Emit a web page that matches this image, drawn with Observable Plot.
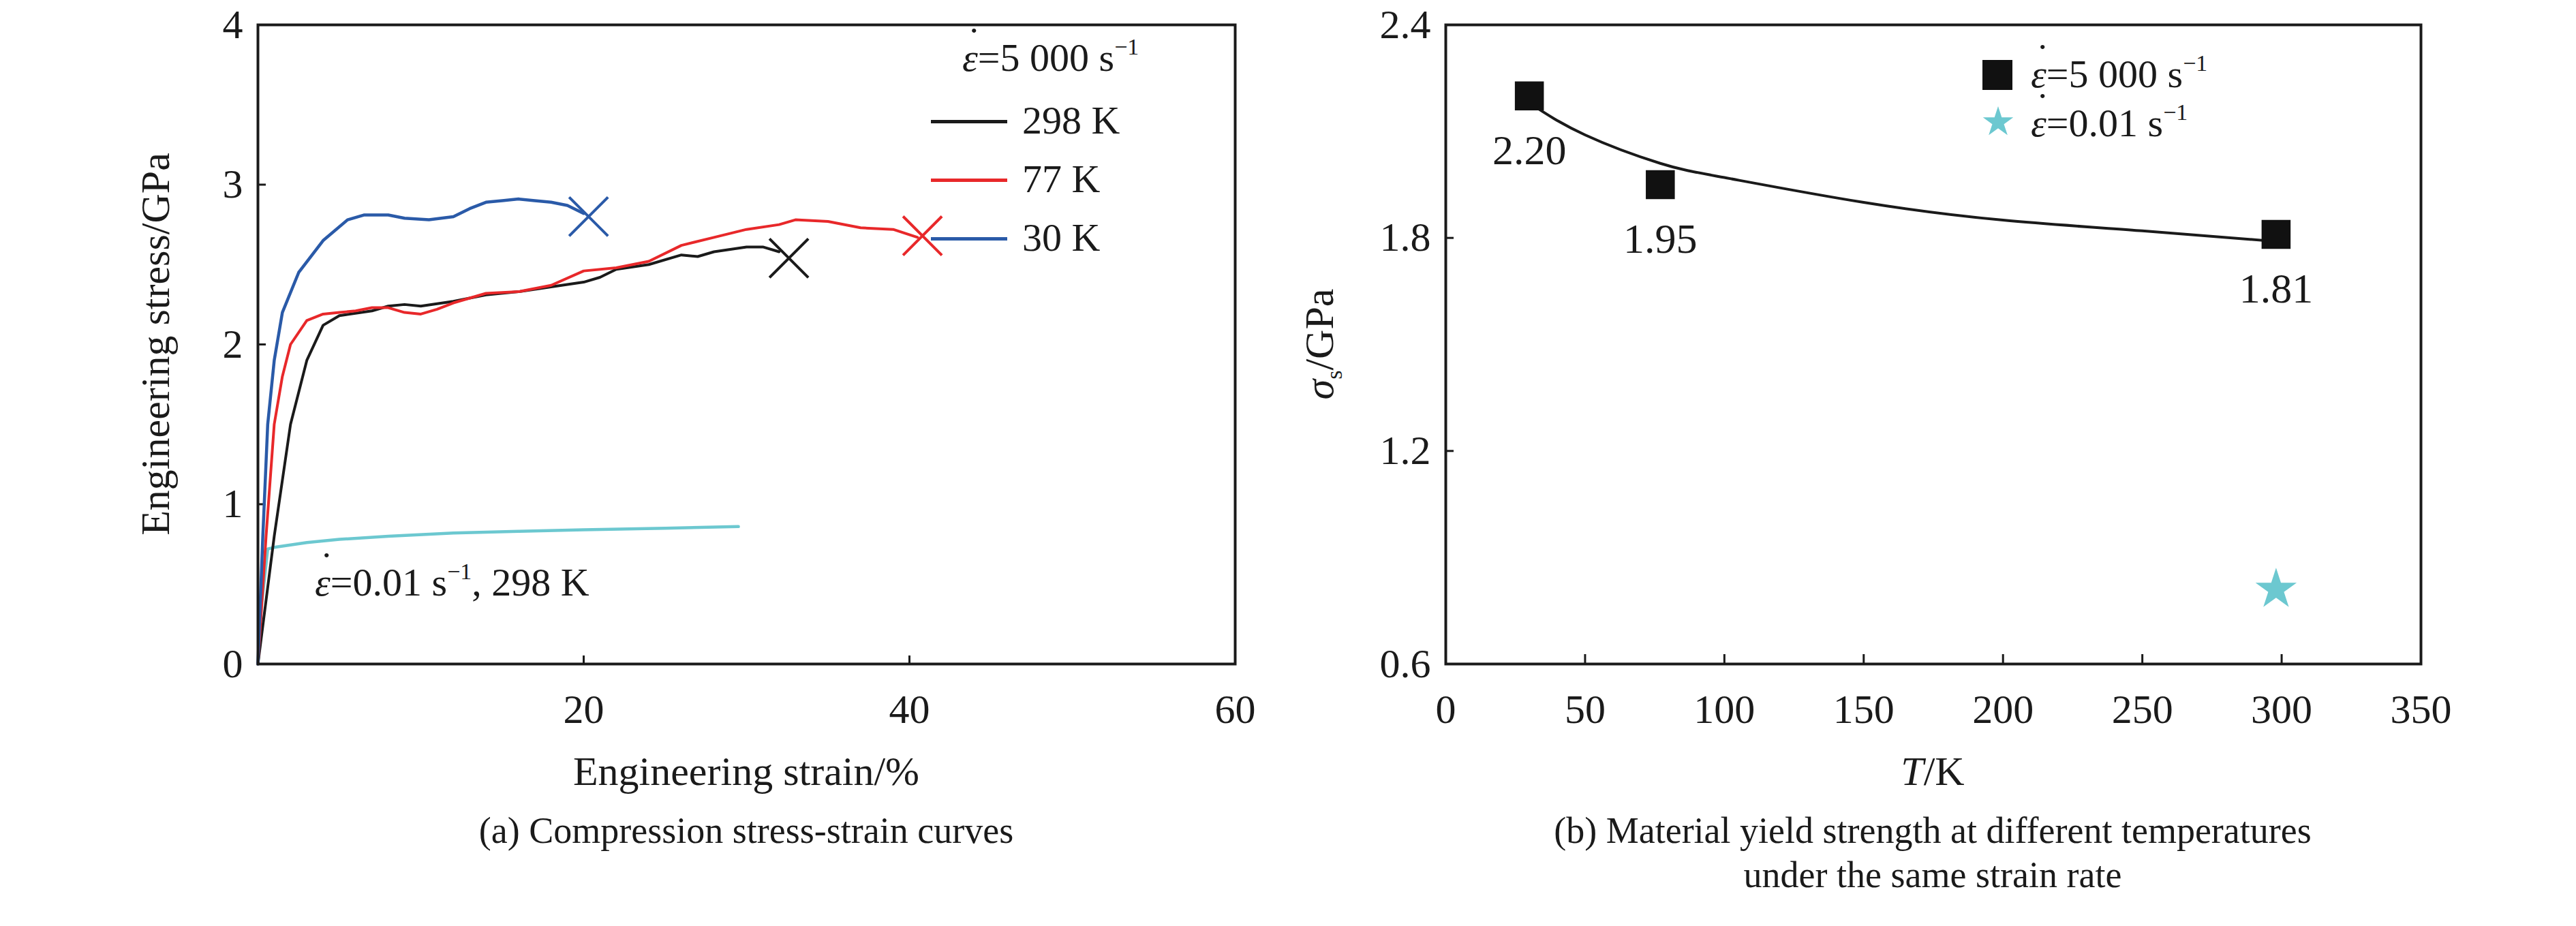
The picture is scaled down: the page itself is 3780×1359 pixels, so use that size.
<!DOCTYPE html>
<html><head><meta charset="utf-8">
<script src="https://cdn.jsdelivr.net/npm/d3@7"></script>
<script src="https://cdn.jsdelivr.net/npm/@observablehq/plot@0.6"></script>
<style>
body{margin:0;background:#fff;font-family:"Liberation Serif",serif;color:#1a1a1a}
svg text{font-family:"Liberation Serif",serif !important}
#wrap{position:relative;width:3780px;height:1359px;overflow:hidden}
.abs{position:absolute;white-space:nowrap;font-size:58px;line-height:1}
.ctr{transform:translateX(-50%);text-align:center}
.leg{position:absolute;height:5px}
sup{font-size:34px;vertical-align:24px;line-height:0}
.ep{position:relative;display:inline-block}
.ep b{position:absolute;left:0.13em;top:-0.42em;font-weight:normal}
</style></head><body><div id="wrap"></div>
<script>
// ---- data (a) ----
const blue30 = [[0,0],[0.3,0.8],[0.6,1.5],[1,1.9],[1.5,2.2],[2.5,2.45],[4,2.65],[5.5,2.78],[6.5,2.81],[8,2.81],[9,2.79],[10.5,2.78],[12,2.8],[13,2.85],[14,2.89],[15,2.9],[16,2.91],[17,2.9],[18,2.89],[19,2.87],[20,2.82]];
const red77 = [[0,0],[0.5,0.8],[1,1.5],[1.5,1.8],[2,2.0],[3,2.15],[4,2.19],[5,2.2],[6,2.21],[7,2.23],[8,2.23],[9,2.2],[10,2.19],[11,2.22],[12,2.26],[14,2.32],[16,2.33],[18,2.37],[20,2.46],[22,2.48],[24,2.52],[26,2.62],[28,2.67],[30,2.72],[32,2.75],[33,2.78],[35,2.77],[37,2.73],[39,2.72],[40.5,2.67]];
const black298 = [[0,0],[1,0.8],[2,1.5],[3,1.9],[4,2.12],[5,2.18],[7,2.21],[8,2.24],[9,2.25],[10,2.24],[12,2.27],[14,2.31],[16,2.33],[18,2.36],[20,2.39],[21,2.42],[22,2.47],[24,2.5],[26,2.56],[27,2.55],[28,2.58],[30,2.61],[31,2.61],[32,2.58]];
const cyanQS = [[0,0],[0.2,0.35],[0.6,0.72],[1,0.73],[3,0.76],[5,0.78],[8,0.8],[12,0.82],[16,0.83],[20,0.84],[25,0.85],[29.5,0.86]];
const fractures = [{x:20.3,y:2.8,c:"#2a5aa8"},{x:40.8,y:2.68,c:"#e8282a"},{x:32.6,y:2.54,c:"#1a1a1a"}];
const xTicksA = [0,20,40,60], yTicksA = [0,1,2,3,4];
// ---- data (b) ----
const temps = [30,77,298], yieldHigh = [2.20,1.95,1.81], yieldLabels = ["2.20","1.95","1.81"];
const fitT = [30,50,77,100,150,200,250,298], fitY = [2.18,2.09,2.01,1.97,1.90,1.85,1.82,1.79];
const quasiT = [298], quasiY = [0.81];
const xTicksB = [0,50,100,150,200,250,300,350], yTicksB = [0.6,1.2,1.8,2.4];

const W=1890,H=1100,mt=36,mb=126, ph=H-mt-mb;
const FF="Liberation Serif";
const wrap=document.getElementById("wrap");
const common = {width:W,height:H,marginTop:mt,marginBottom:mb,style:{fontFamily:FF,fontSize:"60px",color:"#1a1a1a",background:"transparent"}};

const toObj = a=>a.map(([x,y])=>({x,y}));
const A = Plot.plot({...common, marginLeft:378, marginRight:78,
  x:{domain:[0,60],label:null},
  y:{domain:[0,4],label:null},
  marks:[
    Plot.axisX({ticks:xTicksA,tickSize:0,tickPadding:44,label:null,fontSize:60,fontFamily:FF,tickFormat:d=>d===0?"":String(d)}),
    Plot.axisY({ticks:yTicksA,tickSize:0,tickPadding:22,label:null,fontSize:60,fontFamily:FF,tickFormat:d=>String(d)}),
    Plot.tickX([20,40],{x:d=>d,insetTop:ph-12,strokeWidth:3}),
    Plot.tickY([1,2,3],{y:d=>d,insetRight:W-378-78-12,strokeWidth:3}),
    Plot.line(toObj(cyanQS),{x:"x",y:"y",stroke:"#6cc8d0",strokeWidth:4.5}),
    Plot.line(toObj(black298),{x:"x",y:"y",stroke:"#1a1a1a",strokeWidth:4}),
    Plot.line(toObj(red77),{x:"x",y:"y",stroke:"#e8282a",strokeWidth:4}),
    Plot.line(toObj(blue30),{x:"x",y:"y",stroke:"#2a5aa8",strokeWidth:4.5}),
    Plot.dot(fractures,{x:"x",y:"y",symbol:"times",r:26,stroke:"c",strokeWidth:4}),
    Plot.frame({strokeWidth:4})
  ]});
A.style.position="absolute";A.style.left="0px";A.style.top="0px";
wrap.appendChild(A);

const sq = temps.map((t,i)=>({x:t,y:yieldHigh[i],l:yieldLabels[i]}));
const B = Plot.plot({...common, marginLeft:231, marginRight:228,
  x:{domain:[0,350],label:null},
  y:{domain:[0.6,2.4],label:null},
  marks:[
    Plot.axisX({ticks:xTicksB,tickSize:0,tickPadding:44,label:null,fontSize:60,fontFamily:FF}),
    Plot.axisY({ticks:yTicksB,tickSize:0,tickPadding:22,label:null,fontSize:60,fontFamily:FF,tickFormat:d=>d.toFixed(1)}),
    Plot.tickX([50,100,150,200,250,300],{x:d=>d,insetTop:ph-14,strokeWidth:3}),
    Plot.tickY([1.2,1.8],{y:d=>d,insetRight:W-231-228-12,strokeWidth:3}),
    Plot.line(fitT.map((t,i)=>({x:t,y:fitY[i]})),{x:"x",y:"y",curve:"natural",stroke:"#1a1a1a",strokeWidth:4}),
    Plot.dot(sq,{x:"x",y:"y",symbol:"square",r:24,fill:"#111"}),
    Plot.text(sq,{x:"x",y:"y",text:"l",dy:80,fontSize:62,fontFamily:FF,fill:"#1a1a1a"}),
    Plot.dot(quasiT.map((t,i)=>({x:t,y:quasiY[i]})),{x:"x",y:"y",symbol:"star",r:19,fill:"#6cc8d0"}),
    Plot.frame({strokeWidth:4})
  ]});
B.style.position="absolute";B.style.left="1890px";B.style.top="0px";
wrap.appendChild(B);

const eps = '<span class="ep"><i>ε</i><b>˙</b></span>';
const html = `
<div class="abs" style="left:1412px;top:56px">${eps}=5 000 s<sup>−1</sup></div>
<div class="leg" style="left:1366px;top:176px;width:112px;background:#1a1a1a"></div>
<div class="abs" style="left:1500px;top:148px">298 K</div>
<div class="leg" style="left:1366px;top:262px;width:112px;background:#e8282a"></div>
<div class="abs" style="left:1500px;top:234px">77 K</div>
<div class="leg" style="left:1366px;top:348px;width:112px;background:#2a5aa8"></div>
<div class="abs" style="left:1500px;top:320px">30 K</div>
<div class="abs" style="left:462px;top:826px">${eps}=0.01 s<sup>−1</sup>, 298 K</div>
<div class="abs" style="left:228px;top:505px;transform:translate(-50%,-50%) rotate(-90deg);font-size:60px">Engineering stress/GPa</div>
<div class="abs ctr" style="left:1095px;top:1102px;font-size:60px">Engineering strain/%</div>
<div class="abs ctr" style="left:1095px;top:1192px;font-size:54px">(a) Compression stress-strain curves</div>
<div class="abs" style="left:1940px;top:505px;transform:translate(-50%,-50%) rotate(-90deg);font-size:60px"><i>σ</i><sub style="font-size:34px">s</sub>/GPa</div>
<div class="abs ctr" style="left:2836px;top:1102px;font-size:60px"><i>T</i>/K</div>
<div class="abs ctr" style="left:2836px;top:1192px;font-size:54px">(b) Material yield strength at different temperatures<br><span style="line-height:76px">under the same strain rate</span></div>
<div style="position:absolute;left:2909px;top:88px;width:44px;height:44px;background:#111"></div>
<div class="abs" style="left:2980px;top:80px">${eps}=5 000 s<sup>−1</sup></div>
<div class="abs" style="left:2906px;top:150px;color:#6cc8d0;font-size:58px">★</div>
<div class="abs" style="left:2980px;top:152px">${eps}=0.01 s<sup>−1</sup></div>`;
wrap.insertAdjacentHTML("beforeend",html);
</script></body></html>
